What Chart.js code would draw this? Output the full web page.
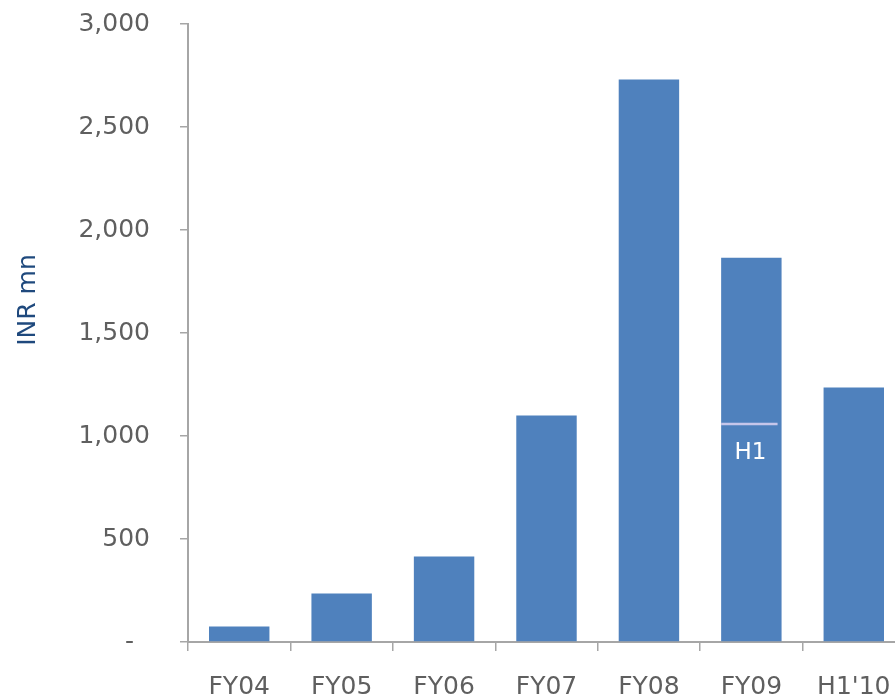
<!DOCTYPE html>
<html>
<head>
<meta charset="utf-8">
<script src="https://cdn.jsdelivr.net/npm/chart.js@4/dist/chart.umd.min.js"></script>
<style>
    html, body { margin: 0; padding: 0; background: #fff; overflow: hidden; }
    #caja { width: 905px; height: 698px; }
</style>
</head>
<body>
<div id="caja"><canvas id="grafico" width="905" height="698"></canvas></div>
<script>
// datos
const categorias = ['FY04', 'FY05', 'FY06', 'FY07', 'FY08', 'FY09', "H1'10"];
const valores = [75, 235, 415, 1100, 2730, 1865, 1235];
const marcaH1 = [null, null, null, null, null, 1058, null];
const textoMarca = 'H1';
const ticksY = [0, 500, 1000, 1500, 2000, 2500, 3000];
const tituloY = 'INR mn';

const fuente = '"DejaVu Sans", Verdana, sans-serif';
const gris = '#5f5f5f';
const linea = '#a6a6a6';

// linea H1 dentro de la barra FY09
const pluginH1 = {
    id: 'marcaH1',
    afterDatasetsDraw(chart) {
        const ctx = chart.ctx;
        const meta = chart.getDatasetMeta(0);
        const y = chart.scales.y;
        marcaH1.forEach((v, i) => {
            if (v == null) return;
            const barra = meta.data[i];
            const py = y.getPixelForValue(v);
            ctx.save();
            ctx.strokeStyle = '#c6c6ea';
            ctx.lineWidth = 2.5;
            ctx.beginPath();
            ctx.moveTo(barra.x - barra.width / 2, py);
            ctx.lineTo(barra.x + barra.width / 2 - 4, py);
            ctx.stroke();
            ctx.fillStyle = '#ffffff';
            ctx.font = '23px ' + fuente;
            ctx.textAlign = 'center';
            ctx.textBaseline = 'middle';
            ctx.fillText(textoMarca, barra.x - 1, py + 29);
            ctx.restore();
        });
    }
};

// titulo del eje Y, algo por encima del centro como en el original
const pluginTitulo = {
    id: 'tituloY',
    afterDraw(chart) {
        const ctx = chart.ctx;
        ctx.save();
        ctx.translate(28, 300);
        ctx.rotate(-Math.PI / 2);
        ctx.fillStyle = '#1f497d';
        ctx.font = '25px ' + fuente;
        ctx.textAlign = 'center';
        ctx.textBaseline = 'middle';
        ctx.fillText(tituloY, 0, 0);
        ctx.restore();
    }
};

const data = {
    labels: categorias,
    datasets: [{
        data: valores,
        backgroundColor: '#4f81bd',
        borderWidth: 0,
        categoryPercentage: 1,
        barPercentage: 0.59
    }]
};

const config = {
    type: 'bar',
    data: data,
    plugins: [pluginH1, pluginTitulo],
    options: {
        responsive: false,
        animation: false,
        layout: { padding: { top: 24, right: 0, left: 0, bottom: 0 } },
        plugins: {
            legend: { display: false },
            tooltip: { enabled: false }
        },
        scales: {
            x: {
                grid: { drawOnChartArea: false, drawTicks: true, tickLength: 9, color: linea, lineWidth: 1.5, offset: true },
                border: { color: linea, width: 2 },
                ticks: { color: gris, font: { family: fuente, size: 25 }, padding: 21, maxRotation: 0 },
                afterFit(scale) {
                    scale.height = 56;
                    scale.paddingLeft = 0;
                    scale.paddingRight = 0;
                }
            },
            y: {
                min: 0,
                max: 3000,
                afterBuildTicks(scale) { scale.ticks = ticksY.map(v => ({ value: v })); },
                grid: { drawOnChartArea: false, drawTicks: true, tickLength: 8, color: linea, lineWidth: 1.5 },
                border: { color: linea, width: 2 },
                ticks: {
                    color: gris,
                    font: { family: fuente, size: 25 },
                    padding: 30,
                    // el cero sale como guion, estilo contable
                    callback: v => v === 0 ? '-  ' : v.toLocaleString('en-US')
                },
                afterFit(scale) {
                    scale.width = 188;
                    scale.paddingTop = 0;
                    scale.paddingBottom = 0;
                }
            }
        }
    }
};

new Chart(document.getElementById('grafico'), config);
</script>
</body>
</html>
